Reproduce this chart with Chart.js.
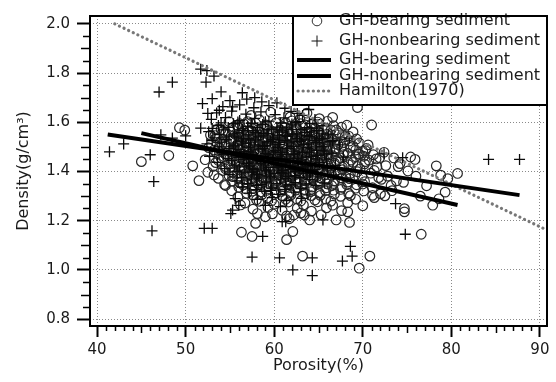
<!DOCTYPE html>
<html>
<head>
<meta charset="utf-8">
<script src="https://cdn.jsdelivr.net/npm/chart.js@4.4.1/dist/chart.umd.min.js"></script>
<style>
  html, body { margin: 0; padding: 0; background: #fff; }
  #wrap { width: 556px; height: 382px; }
</style>
</head>
<body>
<div id="wrap"><canvas id="densityChart" width="556" height="382"></canvas></div>
<script>
// ** porosity vs density **

// circles, GH-bearing sediment (x = porosity %, y = density g/cm3), flat pairs
const bearingPts = [
  45.0,1.440, 48.1,1.465, 49.3,1.578, 49.9,1.568, 50.8,1.423, 51.5,1.363, 54.5,1.343, 56.2,1.264,
  56.3,1.153, 57.5,1.136, 57.9,1.189, 58.1,1.229, 59.0,1.216, 61.4,1.123, 62.1,1.156, 61.7,1.208,
  62.2,1.223, 63.4,1.223, 64.0,1.203, 63.2,1.056, 67.0,1.203, 68.3,1.236, 68.5,1.193, 69.6,1.007,
  70.8,1.056, 71.1,1.303, 74.7,1.236, 76.6,1.145, 77.9,1.263, 78.6,1.289, 79.3,1.316, 78.8,1.385,
  80.7,1.392, 78.3,1.423, 75.9,1.449, 75.4,1.459, 69.4,1.660, 71.0,1.589, 66.6,1.620, 67.0,1.569,
  67.7,1.549, 70.0,1.483, 71.9,1.456, 74.7,1.249, 72.5,1.301, 73.3,1.322, 76.0,1.381, 77.2,1.342,
  75.1,1.402, 73.8,1.362, 79.6,1.371, 74.0,1.420, 76.5,1.300,
  57.4,1.628, 59.6,1.641, 61.8,1.622, 63.7,1.637, 65.1,1.615,
  54.9,1.603, 56.6,1.592, 58.3,1.611, 60.2,1.598, 62.0,1.606, 63.5,1.589, 64.9,1.601, 68.2,1.588,
  53.6,1.572, 55.4,1.581, 57.2,1.566, 58.9,1.578, 60.7,1.569, 62.3,1.583, 64.0,1.564, 65.8,1.577, 68.9,1.561,
  52.8,1.548, 54.5,1.556, 56.0,1.541, 57.8,1.553, 59.5,1.545, 61.1,1.558, 62.8,1.539, 64.5,1.551, 66.2,1.542, 69.3,1.532,
  53.9,1.521, 55.3,1.532, 56.9,1.517, 58.6,1.528, 60.2,1.519, 61.9,1.531, 63.5,1.515, 65.2,1.526, 66.9,1.513, 68.5,1.524, 70.6,1.508,
  52.6,1.497, 54.6,1.504, 56.2,1.492, 57.7,1.506, 59.4,1.494, 61.0,1.503, 62.7,1.489, 64.3,1.501, 65.9,1.491, 67.6,1.499, 69.2,1.487, 72.4,1.478,
  53.5,1.473, 55.1,1.479, 56.8,1.466, 58.4,1.478, 60.1,1.469, 61.7,1.481, 63.4,1.465, 65.0,1.476, 66.6,1.464, 68.3,1.474, 70.1,1.462, 73.5,1.455,
  52.2,1.448, 54.0,1.455, 55.7,1.443, 57.3,1.452, 58.9,1.441, 60.6,1.454, 62.2,1.439, 63.9,1.451, 65.5,1.438, 67.2,1.449, 68.9,1.437, 70.7,1.446, 74.2,1.432,
  53.1,1.421, 54.8,1.429, 56.4,1.417, 58.0,1.426, 59.7,1.415, 61.3,1.428, 63.0,1.413, 64.6,1.424, 66.3,1.412, 67.9,1.422, 69.7,1.410, 71.6,1.419,
  52.5,1.397, 54.2,1.404, 55.8,1.392, 57.5,1.401, 59.1,1.389, 60.8,1.402, 62.4,1.388, 64.1,1.399, 65.7,1.387, 67.4,1.396, 69.1,1.384, 70.9,1.393, 72.8,1.381,
  53.7,1.372, 55.3,1.379, 56.9,1.367, 58.6,1.376, 60.2,1.364, 61.9,1.377, 63.5,1.362, 65.2,1.374, 66.8,1.361, 68.5,1.371, 70.2,1.359, 72.1,1.368, 74.6,1.356,
  54.4,1.347, 56.1,1.354, 57.7,1.342, 59.4,1.351, 61.0,1.339, 62.7,1.352, 64.3,1.337, 66.0,1.349, 67.6,1.336, 69.3,1.346, 71.1,1.334, 73.2,1.343,
  55.2,1.322, 56.8,1.329, 58.5,1.317, 60.1,1.326, 61.8,1.314, 63.4,1.327, 65.1,1.312, 66.7,1.324, 68.4,1.311, 70.1,1.321, 72.0,1.309,
  55.9,1.297, 57.6,1.304, 59.2,1.292, 60.9,1.301, 62.5,1.289, 64.2,1.302, 65.8,1.288, 67.5,1.299, 69.2,1.287, 71.3,1.294,
  56.7,1.272, 58.3,1.279, 60.0,1.267, 61.6,1.276, 63.3,1.264, 64.9,1.277, 66.6,1.263, 68.3,1.273, 70.0,1.261,
  57.6,1.247, 59.3,1.254, 60.9,1.242, 62.6,1.251, 64.2,1.239, 65.9,1.252, 67.6,1.241,
  59.8,1.228, 61.4,1.219, 63.0,1.231, 65.3,1.224,
  55.8,1.588, 57.9,1.596, 60.9,1.583, 63.0,1.594, 66.7,1.586,
  54.2,1.563, 56.3,1.559, 58.1,1.568, 59.9,1.557, 61.5,1.566, 63.2,1.553, 65.0,1.561, 67.3,1.557,
  53.4,1.536, 55.0,1.531, 56.7,1.542, 58.2,1.537, 59.8,1.529, 61.4,1.541, 63.0,1.527, 64.8,1.536, 66.5,1.529, 68.0,1.541,
  54.1,1.511, 55.8,1.507, 57.3,1.516, 59.0,1.502, 60.6,1.512, 62.2,1.505, 63.9,1.514, 65.6,1.501, 67.2,1.509, 68.9,1.503, 70.4,1.494,
  53.2,1.487, 54.9,1.483, 56.5,1.491, 58.1,1.484, 59.7,1.489, 61.4,1.477, 63.0,1.486, 64.7,1.480, 66.3,1.489, 67.9,1.478, 69.5,1.470, 71.2,1.468,
  54.3,1.461, 55.9,1.466, 57.5,1.458, 59.2,1.463, 60.9,1.457, 62.5,1.466, 64.2,1.459, 65.8,1.462, 67.5,1.455, 69.2,1.460, 71.5,1.451,
  53.4,1.436, 55.1,1.432, 56.8,1.438, 58.4,1.431, 60.1,1.437, 61.8,1.432, 63.4,1.438, 65.1,1.429, 66.8,1.434, 68.4,1.428, 70.2,1.431, 72.6,1.424,
  54.5,1.411, 56.1,1.406, 57.8,1.413, 59.4,1.404, 61.1,1.411, 62.7,1.403, 64.4,1.409, 66.0,1.401, 67.7,1.407, 69.4,1.399, 71.3,1.404,
  53.2,1.386, 54.9,1.383, 56.6,1.389, 58.2,1.381, 59.9,1.386, 61.5,1.378, 63.2,1.384, 64.8,1.379, 66.5,1.385, 68.1,1.377, 69.9,1.381, 71.8,1.375,
  55.2,1.361, 56.8,1.357, 58.5,1.363, 60.1,1.356, 61.7,1.361, 63.4,1.353, 65.0,1.359, 66.7,1.351, 68.3,1.357, 70.0,1.349,
  56.0,1.336, 57.6,1.331, 59.3,1.338, 60.9,1.330, 62.6,1.335, 64.2,1.328, 65.9,1.334, 67.5,1.327, 69.2,1.332,
  56.9,1.311, 58.6,1.306, 60.2,1.312, 61.9,1.305, 63.5,1.309, 65.2,1.303, 66.8,1.308, 68.6,1.302,
  58.0,1.285, 59.7,1.281, 61.3,1.287, 63.0,1.280, 64.6,1.284, 66.4,1.279,
  56.1,1.594, 57.0,1.603, 59.1,1.589, 61.3,1.597, 62.9,1.612, 64.2,1.593, 66.0,1.604,
  54.0,1.571, 56.0,1.577, 57.6,1.573, 59.4,1.566, 61.2,1.579, 62.6,1.570, 64.6,1.575, 66.4,1.568, 67.6,1.580,
  53.3,1.546, 55.6,1.551, 57.3,1.545, 58.7,1.556, 60.4,1.549, 61.9,1.546, 63.6,1.555, 65.3,1.547, 67.0,1.552, 68.4,1.544,
  54.6,1.521, 56.2,1.528, 57.9,1.519, 59.3,1.526, 61.0,1.522, 62.4,1.529, 64.3,1.520, 66.0,1.527, 67.8,1.518, 69.6,1.516,
  53.8,1.495, 55.5,1.499, 57.0,1.495, 58.7,1.498, 60.3,1.492, 62.0,1.499, 63.6,1.493, 65.2,1.497, 66.9,1.493, 68.6,1.498, 70.3,1.485,
  54.6,1.472, 56.3,1.474, 57.9,1.469, 59.5,1.476, 61.1,1.470, 62.9,1.475, 64.5,1.468, 66.1,1.472, 67.8,1.468, 69.6,1.471,
  53.7,1.445, 55.4,1.448, 57.0,1.444, 58.7,1.449, 60.3,1.443, 62.0,1.447, 63.7,1.442, 65.3,1.448, 67.0,1.442, 68.7,1.446, 70.3,1.440,
  54.5,1.420, 56.2,1.423, 57.8,1.419, 59.5,1.424, 61.1,1.418, 62.8,1.422, 64.4,1.417, 66.1,1.423, 67.7,1.417, 69.4,1.421,
  55.3,1.395, 57.0,1.398, 58.6,1.394, 60.3,1.399, 61.9,1.393, 63.6,1.397, 65.2,1.392, 66.9,1.398, 68.6,1.392,
  56.0,1.370, 57.7,1.373, 59.3,1.369, 61.0,1.374, 62.6,1.368, 64.3,1.372, 66.0,1.367, 67.6,1.373,
  56.5,1.345, 58.2,1.348, 59.9,1.344, 61.5,1.349, 63.2,1.343, 64.9,1.347, 66.5,1.342, 68.2,1.346,
  57.5,1.320, 59.1,1.323, 60.8,1.319, 62.4,1.324, 64.1,1.318, 65.8,1.322,
  55.9,1.553, 57.1,1.561, 58.4,1.549, 59.6,1.559, 60.9,1.552, 62.1,1.563, 63.4,1.548, 64.6,1.558, 65.9,1.551,
  55.3,1.527, 56.5,1.535, 57.8,1.523, 59.0,1.533, 60.3,1.526, 61.5,1.536, 62.8,1.522, 64.0,1.531, 65.3,1.525, 66.5,1.534,
  56.0,1.503, 57.2,1.509, 58.5,1.498, 59.7,1.507, 61.0,1.500, 62.2,1.510, 63.5,1.496, 64.7,1.506, 66.0,1.499,
  55.6,1.479, 56.8,1.486, 58.1,1.474, 59.3,1.484, 60.6,1.477, 61.8,1.487, 63.1,1.473, 64.3,1.482, 65.6,1.476, 66.8,1.485,
  56.2,1.455, 57.4,1.461, 58.7,1.450, 59.9,1.459, 61.2,1.452, 62.4,1.462, 63.7,1.448, 64.9,1.458, 66.2,1.451,
  55.8,1.431, 57.0,1.438, 58.3,1.426, 59.5,1.436, 60.8,1.429, 62.0,1.439, 63.3,1.425, 64.5,1.434, 65.8,1.428,
  56.4,1.407, 57.6,1.414, 58.9,1.402, 60.1,1.412, 61.4,1.405, 62.6,1.415, 63.9,1.401, 65.1,1.410,
  57.0,1.383, 58.2,1.390, 59.5,1.378, 60.7,1.388, 62.0,1.381, 63.2,1.391, 64.5,1.377, 65.7,1.386,
  57.6,1.359, 58.8,1.366, 60.1,1.354, 61.3,1.364, 62.6,1.357, 63.8,1.367, 65.1,1.353
];

// crosses, GH-nonbearing sediment, flat pairs
const nonbearingPts = [
  41.4,1.480, 43.0,1.512, 47.2,1.549, 48.5,1.536, 46.0,1.468, 46.4,1.359, 47.0,1.723, 48.5,1.763,
  51.7,1.816, 52.4,1.810, 52.3,1.763, 53.2,1.788, 54.0,1.724, 53.0,1.696, 51.9,1.676, 52.5,1.636,
  53.8,1.649, 55.3,1.663, 50.0,1.545, 51.7,1.576, 46.2,1.159, 52.1,1.169, 53.0,1.169, 55.1,1.229,
  55.3,1.243, 57.5,1.052, 58.7,1.136, 60.6,1.049, 60.9,1.196, 61.3,1.196, 65.5,1.203, 64.3,1.049,
  64.3,0.977, 62.1,1.000, 68.6,1.096, 68.8,1.056, 67.7,1.036, 74.8,1.145, 73.7,1.269, 84.2,1.449,
  87.7,1.449, 74.5,1.456, 72.4,1.472, 68.5,1.536, 65.1,1.528, 62.6,1.636, 56.4,1.720, 57.8,1.700,
  55.0,1.688, 56.9,1.694, 58.6,1.683, 60.3,1.679,
  54.2,1.664, 56.1,1.671, 57.7,1.659, 59.4,1.668, 61.2,1.657, 63.9,1.652,
  53.5,1.638, 55.2,1.645, 56.8,1.633, 58.5,1.642, 60.1,1.631, 61.9,1.644, 63.2,1.628,
  52.9,1.612, 54.5,1.619, 56.1,1.607, 57.8,1.616, 59.4,1.605, 61.1,1.618, 62.8,1.603, 64.6,1.611,
  53.7,1.587, 55.4,1.594, 57.0,1.582, 58.7,1.591, 60.3,1.580, 62.0,1.593, 63.7,1.578, 65.5,1.586,
  52.6,1.562, 54.3,1.569, 55.9,1.557, 57.6,1.566, 59.2,1.555, 60.9,1.568, 62.5,1.553, 64.2,1.561, 66.1,1.552,
  53.2,1.537, 54.9,1.544, 56.5,1.532, 58.2,1.541, 59.8,1.530, 61.5,1.543, 63.1,1.528, 64.8,1.536, 66.6,1.525,
  52.4,1.512, 54.0,1.519, 55.6,1.507, 57.3,1.516, 58.9,1.505, 60.6,1.518, 62.2,1.503, 63.9,1.511, 65.6,1.500, 67.4,1.508,
  53.3,1.487, 54.9,1.494, 56.6,1.482, 58.2,1.491, 59.9,1.480, 61.5,1.493, 63.2,1.478, 64.8,1.486, 66.5,1.475,
  52.7,1.462, 54.3,1.469, 56.0,1.457, 57.6,1.466, 59.3,1.455, 60.9,1.468, 62.6,1.453, 64.2,1.461, 65.9,1.450, 67.8,1.458,
  53.6,1.437, 55.2,1.444, 56.9,1.432, 58.5,1.441, 60.2,1.430, 61.8,1.443, 63.5,1.428, 65.1,1.436, 66.9,1.425,
  54.4,1.412, 56.1,1.419, 57.7,1.407, 59.4,1.416, 61.0,1.405, 62.7,1.418, 64.3,1.403, 66.0,1.411,
  55.0,1.387, 56.7,1.394, 58.3,1.382, 60.0,1.391, 61.6,1.380, 63.3,1.393, 64.9,1.378, 66.7,1.386,
  55.8,1.362, 57.4,1.369, 59.1,1.357, 60.7,1.366, 62.4,1.355, 64.0,1.368, 65.7,1.353,
  56.4,1.337, 58.0,1.344, 59.7,1.332, 61.3,1.341, 63.0,1.330, 64.7,1.343,
  57.2,1.312, 58.9,1.319, 60.5,1.307, 62.2,1.316, 63.8,1.305,
  55.6,1.290, 58.1,1.287, 59.8,1.294, 61.4,1.282, 63.1,1.291,
  56.0,1.262, 59.0,1.262, 60.7,1.257,
  54.0,1.598, 55.9,1.601, 57.4,1.596, 59.0,1.602, 60.7,1.597, 62.4,1.600, 64.0,1.595,
  53.0,1.575, 54.8,1.579, 56.4,1.573, 58.1,1.578, 59.7,1.572, 61.4,1.577, 63.0,1.571, 64.8,1.576,
  53.8,1.550, 55.5,1.553, 57.1,1.549, 58.8,1.554, 60.4,1.548, 62.1,1.552, 63.7,1.547, 65.5,1.553,
  53.0,1.526, 54.6,1.529, 56.3,1.524, 57.9,1.528, 59.6,1.523, 61.2,1.527, 62.9,1.522, 64.6,1.526, 66.3,1.521,
  53.8,1.500, 55.4,1.503, 57.1,1.499, 58.7,1.502, 60.4,1.498, 62.0,1.501, 63.7,1.497, 65.4,1.501,
  54.1,1.477, 55.7,1.474, 57.4,1.479, 59.0,1.473, 60.7,1.478, 62.3,1.472, 64.0,1.476, 65.7,1.471,
  54.8,1.452, 56.5,1.449, 58.1,1.453, 59.8,1.448, 61.4,1.452, 63.1,1.447, 64.7,1.451,
  55.5,1.426, 57.2,1.423, 58.8,1.427, 60.5,1.422, 62.1,1.426, 63.8,1.421, 65.5,1.425,
  55.8,1.401, 57.5,1.398, 59.1,1.402, 60.8,1.397, 62.4,1.401, 64.1,1.396,
  56.3,1.376, 58.0,1.373, 59.6,1.377, 61.3,1.372, 62.9,1.376,
  57.0,1.351, 58.6,1.348, 60.3,1.352, 61.9,1.347, 63.6,1.350,
  58.0,1.326, 59.6,1.323, 61.2,1.327,
  56.5,1.566, 57.9,1.558, 59.3,1.569, 60.6,1.560, 62.0,1.571, 63.4,1.559, 64.8,1.566,
  55.7,1.540, 57.1,1.533, 58.5,1.545, 59.9,1.536, 61.3,1.546, 62.6,1.534, 64.0,1.543, 65.4,1.535,
  56.4,1.515, 57.8,1.508, 59.2,1.519, 60.5,1.510, 61.9,1.520, 63.3,1.509, 64.7,1.517,
  55.9,1.489, 57.3,1.483, 58.7,1.494, 60.1,1.485, 61.4,1.495, 62.8,1.483, 64.2,1.492, 65.6,1.484,
  56.6,1.464, 58.0,1.457, 59.4,1.468, 60.8,1.459, 62.2,1.469, 63.6,1.458, 64.9,1.466,
  57.1,1.438, 58.5,1.432, 59.9,1.443, 61.3,1.434, 62.7,1.444, 64.1,1.432,
  57.6,1.413, 59.0,1.406, 60.4,1.417, 61.8,1.408, 63.2,1.418, 64.6,1.407,
  58.1,1.388, 59.5,1.381, 60.9,1.392, 62.3,1.383, 63.7,1.391
];

// regression lines and Hamilton (1970), end points
const bearingFit = [45.0, 1.556, 80.7, 1.264];
const nonbearingFit = [41.2, 1.550, 87.7, 1.304];
const hamiltonLine = [42.0, 2.000, 90.5, 1.167];

const legendLabels = [
  "GH-bearing sediment",
  "GH-nonbearing sediment",
  "GH-bearing sediment",
  "GH-nonbearing sediment",
  "Hamilton(1970)",
];

const xTitle = "Porosity(%)";
const yTitle = "Density(g/cm\u00B3)";

function toPoints(flat) {
  const pts = [];
  for (let i = 0; i < flat.length; i += 2) {
    pts.push({ x: flat[i], y: flat[i + 1] });
  }
  return pts;
}

const FONT = "DejaVu Sans";
const INK = "#1a1a1a";

// legend box, frame and minor ticks
const decorations = {
  id: "decorations",
  afterDraw(chart) {
    const ctx = chart.ctx;
    const area = chart.chartArea;
    const xs = chart.scales.x;
    const ys = chart.scales.y;

    // legend
    const box = { left: 293, top: area.top, right: area.right, bottom: 105 };
    const rows = [21, 41, 60, 76, 91];
    ctx.save();
    ctx.fillStyle = "#fff";
    ctx.fillRect(box.left, box.top, box.right - box.left, box.bottom - box.top);
    ctx.lineWidth = 2;
    ctx.strokeStyle = "#000";
    ctx.strokeRect(box.left, box.top, box.right - box.left, box.bottom - box.top);

    // symbols
    ctx.lineWidth = 1;
    ctx.strokeStyle = "#333";
    ctx.beginPath();
    ctx.arc(317, rows[0], 4.8, 0, Math.PI * 2);
    ctx.stroke();

    ctx.strokeStyle = "#111";
    ctx.beginPath();
    ctx.moveTo(311.5, rows[1]); ctx.lineTo(322.5, rows[1]);
    ctx.moveTo(317, rows[1] - 5.5); ctx.lineTo(317, rows[1] + 5.5);
    ctx.stroke();

    ctx.strokeStyle = "#000";
    ctx.lineWidth = 4;
    [rows[2], rows[3]].forEach((ry) => {
      ctx.beginPath();
      ctx.moveTo(297, ry); ctx.lineTo(331, ry);
      ctx.stroke();
    });

    ctx.strokeStyle = "#777";
    ctx.lineWidth = 3.2;
    ctx.lineCap = "round";
    ctx.setLineDash([0.1, 5]);
    ctx.beginPath();
    ctx.moveTo(298, rows[4]); ctx.lineTo(331, rows[4]);
    ctx.stroke();
    ctx.setLineDash([]);
    ctx.lineCap = "butt";

    ctx.fillStyle = INK;
    ctx.font = `16px "${FONT}"`;
    ctx.textBaseline = "middle";
    ctx.textAlign = "left";
    legendLabels.forEach((label, i) => {
      ctx.fillText(label, 339, rows[i]);
    });

    // frame
    ctx.strokeStyle = "#000";
    ctx.lineWidth = 2;
    ctx.strokeRect(area.left, area.top, area.right - area.left, area.bottom - area.top);

    // minor ticks
    ctx.lineWidth = 1.5;
    ctx.beginPath();
    for (let k = 40; k <= 90; k++) {
      if (k % 10 === 0) continue;
      const px = Math.round(xs.getPixelForValue(k)) + 0.5;
      const len = k % 5 === 0 ? 7 : 5;
      ctx.moveTo(px, area.bottom);
      ctx.lineTo(px, area.bottom + len);
    }
    for (let k = 16; k <= 40; k++) {
      if (k % 4 === 0) continue;
      const py = Math.round(ys.getPixelForValue(k * 0.05)) + 0.5;
      const len = k % 2 === 0 ? 9 : 7;
      ctx.moveTo(area.left, py);
      ctx.lineTo(area.left - len, py);
    }
    ctx.stroke();
    ctx.restore();
  },
};

const ctx = document.getElementById("densityChart").getContext("2d");
const densityChart = new Chart(ctx, {
  type: "scatter",
  data: {
    datasets: [
      {
        label: legendLabels[2],
        data: toPoints(bearingFit),
        showLine: true,
        borderColor: "#000",
        borderWidth: 4,
        pointRadius: 0,
        order: 0,
      },
      {
        label: legendLabels[3],
        data: toPoints(nonbearingFit),
        showLine: true,
        borderColor: "#000",
        borderWidth: 4,
        pointRadius: 0,
        order: 0,
      },
      {
        label: legendLabels[4],
        data: toPoints(hamiltonLine),
        showLine: true,
        borderColor: "#777",
        borderWidth: 3.2,
        borderDash: [0.1, 5],
        borderCapStyle: "round",
        pointRadius: 0,
        order: 1,
      },
      {
        label: legendLabels[1],
        data: toPoints(nonbearingPts),
        pointStyle: "cross",
        pointRadius: 5.5,
        pointBorderWidth: 1.3,
        pointBorderColor: "#0a0a0a",
        order: 2,
      },
      {
        label: legendLabels[0],
        data: toPoints(bearingPts),
        pointStyle: "circle",
        pointRadius: 4.8,
        pointBorderWidth: 1.2,
        pointBorderColor: "#262626",
        pointBackgroundColor: "rgba(0,0,0,0)",
        order: 3,
      },
    ],
  },
  options: {
    responsive: false,
    animation: false,
    events: [],
    layout: { padding: { top: 10, right: 9, left: 0, bottom: 0 } },
    plugins: {
      legend: { display: false },
      tooltip: { enabled: false },
    },
    scales: {
      x: {
        type: "linear",
        min: 39.2,
        max: 90.8,
        afterFit: (scale) => { scale.height = 56; },
        ticks: {
          stepSize: 10,
          includeBounds: false,
          maxRotation: 0,
          autoSkip: false,
          padding: 4,
          color: INK,
          font: { family: FONT, size: 15 },
        },
        grid: {
          color: "#8a8a8a",
          lineWidth: 1,
          tickLength: 11,
          tickWidth: 2,
          tickColor: "#000",
          tickBorderDash: [],
        },
        border: { display: false, dash: [1, 2] },
        title: {
          display: true,
          text: xTitle,
          color: INK,
          font: { family: FONT, size: 16, lineHeight: 1 },
          padding: { top: 0, bottom: 8 },
        },
      },
      y: {
        type: "linear",
        min: 0.772,
        max: 2.032,
        afterFit: (scale) => { scale.width = 90; },
        ticks: {
          stepSize: 0.2,
          includeBounds: false,
          padding: 7,
          color: INK,
          font: { family: FONT, size: 15 },
          callback: (v) => v.toFixed(1),
        },
        grid: {
          color: "#8a8a8a",
          lineWidth: 1,
          tickLength: 13,
          tickWidth: 2,
          tickColor: "#000",
          tickBorderDash: [],
        },
        border: { display: false, dash: [1, 2] },
        title: {
          display: true,
          text: yTitle,
          color: INK,
          font: { family: FONT, size: 16, lineHeight: 1 },
          padding: { top: 16, bottom: 0 },
        },
      },
    },
  },
  plugins: [decorations],
});
</script>
</body>
</html>
